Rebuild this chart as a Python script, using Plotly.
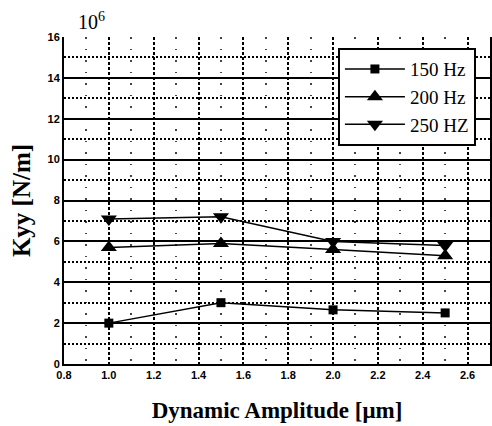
import plotly.graph_objects as go

amplitude = [1.0, 1.5, 2.0, 2.5]
k_150 = [2.0, 3.0, 2.65, 2.5]
k_200 = [5.7, 5.9, 5.6, 5.3]
k_250 = [7.1, 7.2, 6.0, 5.8]
names = ["150 Hz", "200 Hz", "250 HZ"]
symbols = ["square", "triangle-up", "triangle-down"]
sizes = [9, 14, 14]

SERIF = "Liberation Serif, Times New Roman, serif"
SANS = "Liberation Sans, Arial, sans-serif"

fig = go.Figure()
for ys, nm, sym, sz in zip([k_150, k_200, k_250], names, symbols, sizes):
    fig.add_trace(go.Scatter(
        x=amplitude, y=ys, name=nm, mode="lines+markers",
        line=dict(color="black", width=1.5),
        marker=dict(symbol=sym, size=sz, color="black"),
    ))

fig.update_layout(
    width=492, height=426,
    margin=dict(l=64, r=0, t=37, b=62),
    paper_bgcolor="white", plot_bgcolor="white",
    showlegend=True,
    legend=dict(
        x=0.643, y=0.966, xanchor="left", yanchor="top",
        bgcolor="white", bordercolor="black", borderwidth=2,
        font=dict(family=SERIF, size=19, color="black"),
        tracegroupgap=0, itemwidth=60,
    ),
    xaxis=dict(
        range=[0.8, 2.7], dtick=0.2, tick0=0.8, tickformat=".1f",
        showgrid=True, gridcolor="black", gridwidth=1.5, griddash="3px,2px",
        minor=dict(dtick=0.1, showgrid=True, gridcolor="#444", gridwidth=1.5, griddash="1.5px,10px"),
        showline=True, linecolor="black", linewidth=2, mirror=False,
        ticks="", zeroline=False,
        tickfont=dict(family=SANS, size=11, color="black", weight="bold"),
        title=dict(text="Dynamic Amplitude [μm]", standoff=22,
                   font=dict(family=SERIF, size=23, color="black", weight="bold")),
    ),
    yaxis=dict(
        range=[0, 16], dtick=2, tick0=0,
        showgrid=True, gridcolor="black", gridwidth=1.5,
        minor=dict(dtick=1, showgrid=True, gridcolor="black", gridwidth=1.5, griddash="2px,2px"),
        showline=True, linecolor="black", linewidth=2, mirror=True,
        ticks="", zeroline=False,
        tickfont=dict(family=SANS, size=11, color="black", weight="bold"),
        title=dict(text="Kyy [N/m]", standoff=10,
                   font=dict(family=SERIF, size=25, color="black", weight="bold")),
    ),
    annotations=[dict(
        text="10<sup>6</sup>", x=0.0, y=1.0, xref="paper", yref="paper",
        xanchor="left", yanchor="bottom", xshift=12, yshift=2, showarrow=False,
        font=dict(family=SERIF, size=20, color="black"),
    )],
)

fig.write_html("out.html")
